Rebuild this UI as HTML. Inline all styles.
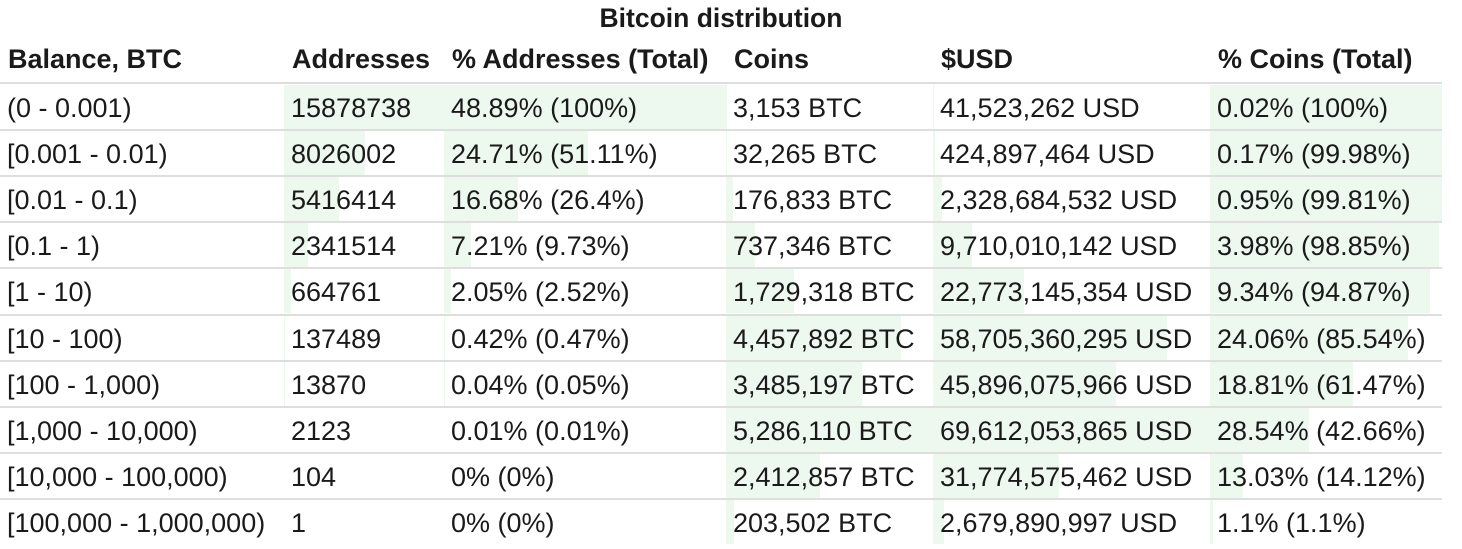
<!DOCTYPE html>
<html><head><meta charset="utf-8">
<style>
body{margin:0;background:#fff;width:1462px;height:549px;overflow:hidden;font-family:"Liberation Sans",Arial,sans-serif;color:#1a1a1a;position:relative}
.t{position:absolute;left:0;width:1442px;text-align:center;top:3px;font-weight:bold;font-size:26.5px}
.h{position:absolute;font-weight:bold;font-size:27px;top:44px;white-space:nowrap}
.c{position:absolute;font-size:27px;white-space:nowrap;line-height:46px}
.bar{position:absolute;background:#edf8ef}
.line{position:absolute;left:0;width:1442px;height:2px;background:#dedede}
</style></head><body>
<div class="t">Bitcoin distribution</div>
<div id="tbl"></div>
<script>
const headers=["Balance, BTC","Addresses","% Addresses (Total)","Coins","$USD","% Coins (Total)"];
const ranges=["(0 - 0.001)","[0.001 - 0.01)","[0.01 - 0.1)","[0.1 - 1)","[1 - 10)","[10 - 100)","[100 - 1,000)","[1,000 - 10,000)","[10,000 - 100,000)","[100,000 - 1,000,000)"];
const addresses=[15878738,8026002,5416414,2341514,664761,137489,13870,2123,104,1];
const addrPct=["48.89%","24.71%","16.68%","7.21%","2.05%","0.42%","0.04%","0.01%","0%","0%"];
const addrCum=[100,51.11,26.4,9.73,2.52,0.47,0.05,0.01,0,0];
const coins=[3153,32265,176833,737346,1729318,4457892,3485197,5286110,2412857,203502];
const usd=[41523262,424897464,2328684532,9710010142,22773145354,58705360295,45896075966,69612053865,31774575462,2679890997];
const coinPct=["0.02%","0.17%","0.95%","3.98%","9.34%","24.06%","18.81%","28.54%","13.03%","1.1%"];
const coinCum=[100,99.98,99.81,98.85,94.87,85.54,61.47,42.66,14.12,1.1];
const colX=[0,284,444,726,933,1210,1442];
const rowTop=84,rowH=46.1;
const tbl=document.getElementById('tbl');
const fmt=n=>n.toLocaleString('en-US');
const fmtc=c=>(c+'%');
function add(cls,style,text){const d=document.createElement('div');d.className=cls;Object.assign(d.style,style);if(text!=null)d.textContent=text;tbl.appendChild(d);return d;}
headers.forEach((h,i)=>{const d=add('h',{left:(colX[i]+8)+'px'},h);

});
const ln=add('line',{top:'82px'});


const maxA=Math.max(...addresses),maxC=Math.max(...coins),maxU=Math.max(...usd);
ranges.forEach((r,i)=>{
 const top=rowTop+rowH*i;
 const fracs=[null,addresses[i]/maxA,addrCum[i]/100,coins[i]/maxC,usd[i]/maxU,coinCum[i]/100];
 const texts=[r,String(addresses[i]),addrPct[i]+' ('+fmtc(addrCum[i])+')',fmt(coins[i])+' BTC',fmt(usd[i])+' USD',coinPct[i]+' ('+fmtc(coinCum[i])+')'];
 for(let c=0;c<6;c++){
  if(fracs[c]!==null){const w=(colX[c+1]-colX[c])*fracs[c];
   const b=add('bar',{left:colX[c]+'px',top:(top+1)+'px',width:w+'px',height:(rowH-2)+'px'});
   
   }
  const t=add('c',{left:(colX[c]+7)+'px',top:(top+1)+'px'},texts[c]);
  
  
 }
 if(i<ranges.length-1){const l=add('line',{top:(top+rowH-1)+'px'});
 
 }
});
</script>
</body></html>
